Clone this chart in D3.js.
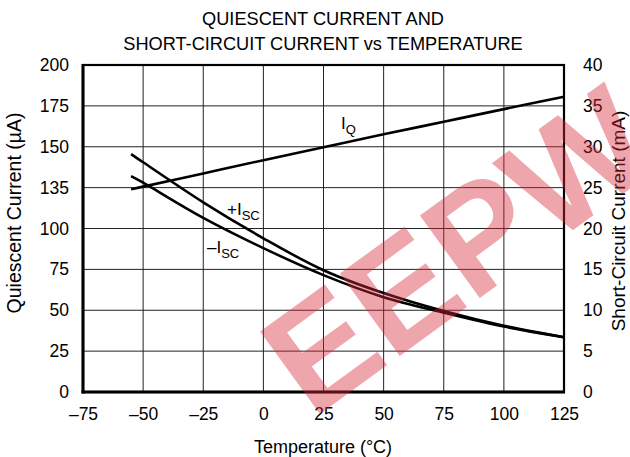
<!DOCTYPE html>
<html><head><meta charset="utf-8">
<script src="https://cdn.jsdelivr.net/npm/d3@7"></script>
<style>body{margin:0;background:#fff}svg{display:block}text{font-family:"Liberation Sans",Arial,sans-serif;fill:#000}</style>
</head><body><svg id="c" width="630" height="457"></svg>
<script>
const temps = [-55, -50, -25, 0, 25, 50, 75, 100, 125];
const iqValues = [124, 125.6, 133.7, 141.8, 149.7, 157.6, 165.3, 173, 180.6];   // µA (left axis)
const iscPlus = [29.1, 28.1, 23.2, 18.8, 14.9, 12.1, 9.9, 8.1, 6.7];           // mA (right axis)
const iscMinus = [26.4, 25.6, 21.3, 17.6, 14.3, 11.6, 9.7, 8.0, 6.7];          // mA (right axis)
const xTicks = [-75, -50, -25, 0, 25, 50, 75, 100, 125];
const xTickLabels = ["–75", "–50", "–25", "0", "25", "50", "75", "100", "125"];
const yLeftTicks = [0, 25, 50, 75, 100, 125, 150, 175, 200];
const yLeftTickLabels = ["0", "25", "50", "75", "100", "135", "150", "175", "200"];
const yRightTicks = [0, 5, 10, 15, 20, 25, 30, 35, 40];

const svg = d3.select("#c");
const L = 83, R = 564, T = 65, B = 392;
const x = d3.scaleLinear().domain([-75, 125]).range([L, R]);
const yL = d3.scaleLinear().domain([0, 200]).range([B, T]);
const yR = d3.scaleLinear().domain([0, 40]).range([B, T]);
const FF = '"Liberation Sans",Arial,sans-serif';

// title
svg.append("text").attr("x", 323).attr("y", 25).attr("text-anchor", "middle").style("font-size", "18.2px").text("QUIESCENT CURRENT AND");
svg.append("text").attr("x", 323).attr("y", 50).attr("text-anchor", "middle").style("font-size", "18.2px").text("SHORT-CIRCUIT CURRENT vs TEMPERATURE");

// grid
const g = svg.append("g");
g.selectAll(".vx").data(xTicks.slice(1, -1)).enter().append("line")
  .attr("x1", d => x(d)).attr("x2", d => x(d)).attr("y1", T).attr("y2", B)
  .attr("stroke", "#222").attr("stroke-width", 1);
g.selectAll(".hy").data(yLeftTicks.slice(1, -1)).enter().append("line")
  .attr("x1", L).attr("x2", R).attr("y1", d => yL(d)).attr("y2", d => yL(d))
  .attr("stroke", "#222").attr("stroke-width", 1);

// axes (labels only)
const axB = svg.append("g").attr("transform", `translate(0,${B})`)
  .call(d3.axisBottom(x).tickValues(xTicks).tickSize(0).tickPadding(16).tickFormat((d, i) => xTickLabels[i]));
const axL = svg.append("g").attr("transform", `translate(${L},0)`)
  .call(d3.axisLeft(yL).tickValues(yLeftTicks).tickSize(0).tickPadding(14).tickFormat((d, i) => yLeftTickLabels[i]));
const axR = svg.append("g").attr("transform", `translate(${R},0)`)
  .call(d3.axisRight(yR).tickValues(yRightTicks).tickSize(0).tickPadding(19).tickFormat(d3.format("d")));
[axB, axL, axR].forEach(a => {
  a.select(".domain").remove();
  a.selectAll("text").style("font-size", "17.5px").style("font-family", FF).attr("fill", "#000");
});

// frame
svg.append("rect").attr("x", L).attr("y", T).attr("width", R - L).attr("height", B - T)
  .attr("fill", "none").attr("stroke", "#000").attr("stroke-width", 2.2);
svg.append("line").attr("x1", L).attr("x2", L).attr("y1", T - 1).attr("y2", B + 1.5).attr("stroke", "#000").attr("stroke-width", 3);
svg.append("line").attr("x1", L - 1.5).attr("x2", R + 1).attr("y1", B).attr("y2", B).attr("stroke", "#000").attr("stroke-width", 3);

// curves
const lineL = d3.line().x((d, i) => x(temps[i])).y(d => yL(d)).curve(d3.curveCatmullRom.alpha(0.5));
const lineR = d3.line().x((d, i) => x(temps[i])).y(d => yR(d)).curve(d3.curveCatmullRom.alpha(0.5));
[[iqValues, lineL], [iscPlus, lineR], [iscMinus, lineR]].forEach(([data, ln]) => {
  svg.append("path").attr("d", ln(data)).attr("fill", "none").attr("stroke", "#000").attr("stroke-width", 2.6);
});

// curve labels
function lab(xp, yp, main, sub) {
  const t = svg.append("text").attr("x", xp).attr("y", yp).style("font-size", "17px");
  t.append("tspan").text(main);
  t.append("tspan").attr("dy", 5).style("font-size", "13px").text(sub);
}
lab(341, 129, "I", "Q");
lab(227, 215, "+I", "SC");
lab(207, 253, "–I", "SC");

// axis titles
svg.append("text").attr("x", 323).attr("y", 453).attr("text-anchor", "middle").style("font-size", "18px").text("Temperature (°C)");
svg.append("text").attr("transform", "translate(21,213) rotate(-90)").attr("text-anchor", "middle").style("font-size", "19.5px").text("Quiescent Current (µA)");
svg.append("text").attr("transform", "translate(625,221) rotate(-90)").attr("text-anchor", "middle").style("font-size", "19px").text("Short-Circuit Current (mA)");

// watermark
svg.append("text").attr("transform", "translate(458,250) rotate(-36)").attr("text-anchor", "middle")
  .attr("dominant-baseline", "central")
  .style("font-size", "148px").style("font-weight", "bold").style("font-family", FF)
  .style("fill", "rgb(214,40,56)").style("fill-opacity", 0.42).text("EEPW");
</script></body></html>
